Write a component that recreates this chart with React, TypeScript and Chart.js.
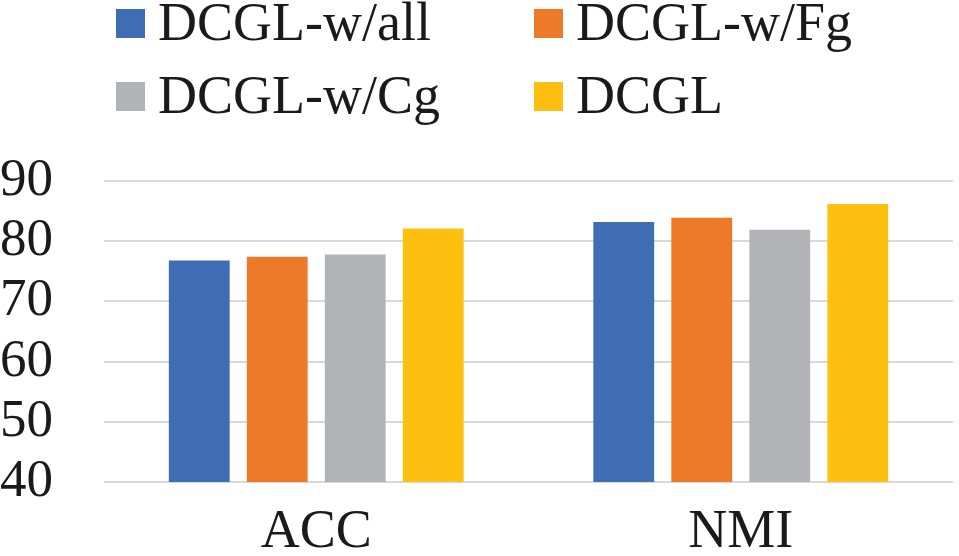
import React, { useEffect, useRef } from "react";
import { Chart, registerables } from "chart.js";

Chart.register(...registerables);

const categories = ["ACC", "NMI"];
const seriesNames = ["DCGL-w/all", "DCGL-w/Fg", "DCGL-w/Cg", "DCGL"];
const wAll = [76.8, 83.2];
const wFg = [77.4, 83.9];
const wCg = [77.8, 81.9];
const dcgl = [82.1, 86.2];
const colors = ["#3f6db4", "#ec7a28", "#b2b3b6", "#fdc011"];
const yTicks = [40, 50, 60, 70, 80, 90];

const FONT = "Liberation Serif";

const legendPlugin = {
  id: "gridLegend",
  afterDraw(chart: any) {
    const ctx = chart.ctx;
    const cols = [116, 534];
    const rows = [9, 82];
    const box = 29;
    ctx.save();
    ctx.font = `54px ${FONT}`;
    ctx.textBaseline = "alphabetic";
    ctx.textAlign = "left";
    chart.data.datasets.forEach((ds: any, i: number) => {
      const x = cols[i % 2];
      const y = rows[Math.floor(i / 2)];
      ctx.fillStyle = ds.backgroundColor;
      ctx.fillRect(x, y, box, box);
      ctx.fillStyle = "#1a1a1a";
      ctx.fillText(ds.label, x + 42, y + box + 2);
    });
    const probe = (f: string) => {
      ctx.font = f;
      return ctx.measureText("DCGL-w/all").width;
    };
    probe("54px Liberation Serif");
    probe("54px 'Liberation Serif', serif");
    probe("54px 'Liberation Sans'");
    probe("54px serif");
    probe("54px 'DejaVu Serif'");
    ctx.font = "14px 'DejaVu Sans'";
    ctx.fillStyle = "rgba(255,255,255,0)";
    ctx.fillText(" ", 110, 150);
    ctx.restore();
  },
};

export default function App() {
  const ref = useRef<HTMLCanvasElement | null>(null);
  useEffect(() => {
    if (!ref.current) return;
    const series = [wAll, wFg, wCg, dcgl];
    const chart = new Chart(ref.current, {
      type: "bar",
      data: {
        labels: categories,
        datasets: series.map((d, i) => ({
          label: seriesNames[i],
          data: d,
          backgroundColor: colors[i],
          borderWidth: 0,
          categoryPercentage: 0.735,
          barPercentage: 0.78,
        })),
      },
      options: {
        animation: false,
        responsive: false,
        maintainAspectRatio: false,
        layout: { padding: { top: 181, right: 6, left: 0, bottom: 0 } },
        plugins: { legend: { display: false }, tooltip: { enabled: false } },
        scales: {
          x: {
            grid: { display: false },
            border: { display: false },
            ticks: { color: "#1a1a1a", font: { family: FONT, size: 54 }, padding: 10, autoSkip: false, maxRotation: 0 },
            afterFit: (s: any) => {
              s.height = 74;
            },
          },
          y: {
            min: 40,
            max: 90,
            afterBuildTicks: (s: any) => {
              s.ticks = yTicks.map((v) => ({ value: v }));
            },
            grid: { color: "#d9d9d9", lineWidth: 2, drawTicks: false },
            border: { display: false },
            ticks: { color: "#1a1a1a", font: { family: FONT, size: 53 }, padding: 51, autoSkip: false },
            afterFit: (s: any) => {
              s.width = 104;
              s.paddingTop = 0;
              s.paddingBottom = 0;
            },
          },
        },
      },
      plugins: [legendPlugin],
    });
    return () => chart.destroy();
  }, []);
  return (
    <div style={{ position: "fixed", left: 0, top: 0, width: 959, height: 556, background: "#fff" }}>
      <canvas ref={ref} width={959} height={556} style={{ width: 959, height: 556 }} />
    </div>
  );
}
